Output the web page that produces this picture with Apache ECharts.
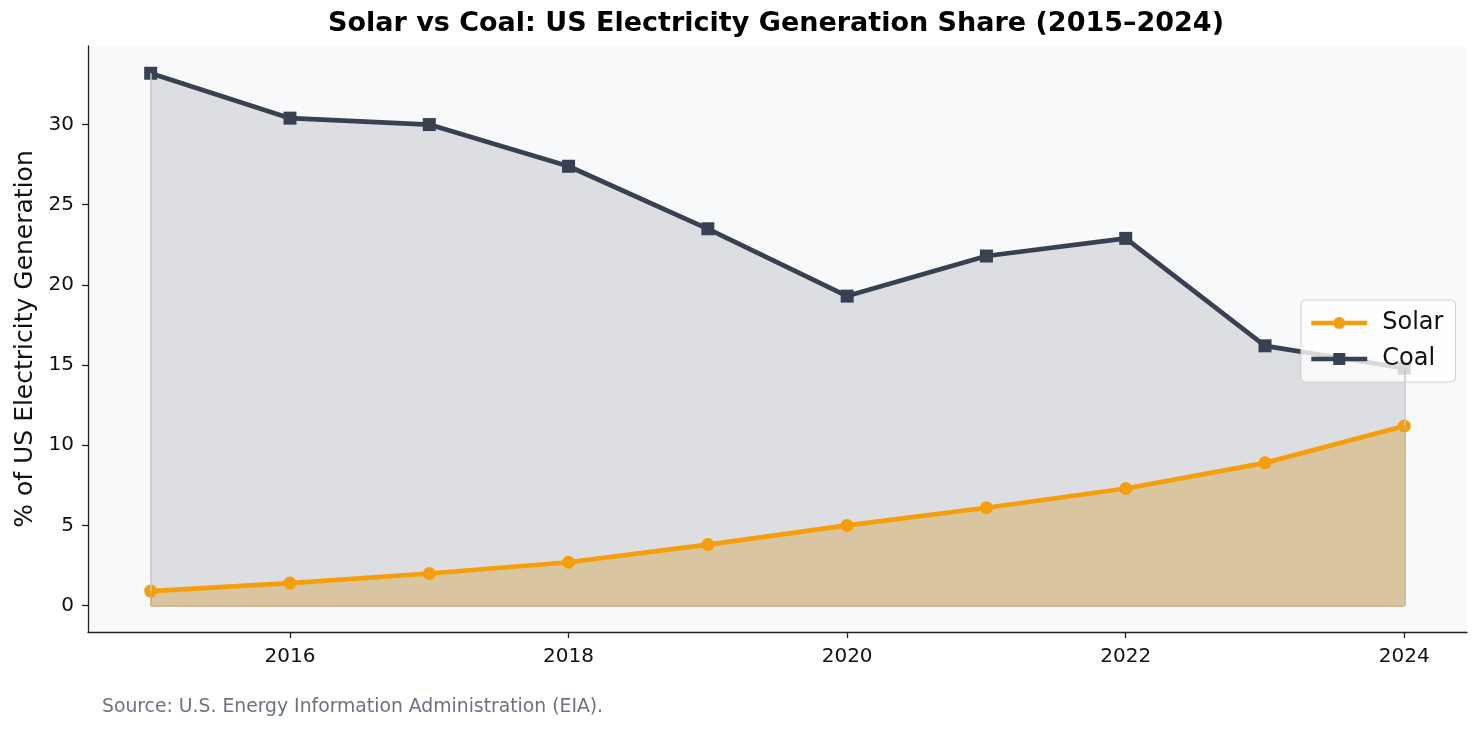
<!DOCTYPE html>
<html>
<head>
<meta charset="utf-8">
<script src="https://cdn.jsdelivr.net/npm/echarts@6/dist/echarts.min.js"></script>
<style>
  html, body { margin: 0; padding: 0; background: #fff; }
  #chart { width: 1482px; height: 734px; }
</style>
</head>
<body>
<div id="chart"></div>
<script>
var years = [2015, 2016, 2017, 2018, 2019, 2020, 2021, 2022, 2023, 2024];
var solar = [0.9, 1.4, 2.0, 2.7, 3.8, 5.0, 6.1, 7.3, 8.9, 11.2];
var coal = [33.2, 30.4, 30.0, 27.4, 23.5, 19.3, 21.8, 22.9, 16.2, 14.8];
var xTicks = [2016, 2018, 2020, 2022, 2024];
var yTicks = [0, 5, 10, 15, 20, 25, 30];

function pairs(vals) {
  return years.map(function (y, i) { return [y, vals[i]]; });
}

// outline of a filled area (left side, right side, base), like fill_between edges
// lower: the series drawn below, so its part of the edge is not repeated
function edges(vals, lower) {
  var n = years.length - 1;
  var first = years[0], last = years[n];
  var lo0 = lower ? lower[0] : 0, loN = lower ? lower[n] : 0;
  var out = [
    [{ coord: [first, lo0] }, { coord: [first, vals[0]] }],
    [{ coord: [last, loN] }, { coord: [last, vals[n]] }]
  ];
  if (!lower) out.push([{ coord: [first, 0] }, { coord: [last, 0] }]);
  return out;
}

var font = 'DejaVu Sans';
var chart = echarts.init(document.getElementById('chart'));

var option = {
  animation: false,
  textStyle: { fontFamily: font },
  grid: {
    left: 88, right: 15, top: 46, bottom: 102,
    show: true, backgroundColor: '#f8f9fb', borderWidth: 0
  },
  legend: {
    data: [
      { name: 'Solar', lineStyle: { width: 4.5 } },
      { name: 'Coal', lineStyle: { width: 4.5 } }
    ],
    orient: 'vertical',
    left: 1301, top: 300,
    itemWidth: 56, itemHeight: 15, itemGap: 8,
    padding: [9, 12, 9, 8],
    backgroundColor: 'rgba(255,255,255,0.8)',
    borderColor: '#d0d0d0', borderWidth: 1, borderRadius: 4,
    textStyle: { fontFamily: font, fontSize: 24, color: '#111', lineHeight: 28, padding: [0, 0, 0, 10] }
  },
  xAxis: {
    type: 'value',
    min: 2014.55, max: 2024.45,
    axisLine: { show: true, onZero: false, lineStyle: { color: '#222', width: 1.3 } },
    axisTick: { show: true, length: 6, customValues: xTicks, lineStyle: { color: '#222', width: 1.3 } },
    axisLabel: {
      customValues: xTicks, fontSize: 20, color: '#111', margin: 15, fontFamily: font,
      formatter: function (v) { return String(v); }
    },
    splitLine: { show: false }
  },
  yAxis: {
    type: 'value',
    min: -1.65, max: 34.9,
    name: '% of US Electricity Generation',
    nameLocation: 'middle',
    nameGap: 50,
    nameTextStyle: { fontSize: 25, color: '#111', fontFamily: font },
    axisLine: { show: true, onZero: false, lineStyle: { color: '#222', width: 1.3 } },
    axisTick: { show: true, length: 6, customValues: yTicks, lineStyle: { color: '#222', width: 1.3 } },
    axisLabel: { customValues: yTicks, fontSize: 20, color: '#111', margin: 14, fontFamily: font },
    splitLine: { show: false }
  },
  series: [
    {
      name: 'Coal',
      type: 'line',
      data: pairs(coal),
      symbol: 'rect',
      symbolSize: 13,
      itemStyle: { color: '#374151' },
      lineStyle: { color: '#374151', width: 4.7 },
      areaStyle: { color: 'rgba(55,65,81,0.14)', opacity: 1, origin: 0 },
      markLine: {
        silent: true, symbol: 'none', label: { show: false },
        lineStyle: { color: '#c6c8cd', width: 1.5, type: 'solid' },
        data: edges(coal, solar)
      },
      z: 3
    },
    {
      name: 'Solar',
      type: 'line',
      data: pairs(solar),
      symbol: 'circle',
      symbolSize: 13,
      itemStyle: { color: '#f59e0b' },
      lineStyle: { color: '#f59e0b', width: 4.7 },
      areaStyle: { color: '#d9c5a0', opacity: 1, origin: 0 },
      markLine: {
        silent: true, symbol: 'none', label: { show: false },
        lineStyle: { color: '#c9ac7c', width: 1.5, type: 'solid' },
        data: edges(solar)
      },
      z: 4
    }
  ],
  graphic: [
    {
      type: 'text', left: 328, top: 10,
      style: {
        text: 'Solar vs Coal: US Electricity Generation Share (2015\u20132024)',
        fontFamily: font, fontSize: 27, fontWeight: 'bold', fill: '#000'
      }
    },
    {
      type: 'text', left: 102, top: 698,
      style: {
        text: 'Source: U.S. Energy Information Administration (EIA).',
        fontFamily: font, fontSize: 18.8, fill: '#6b7280'
      }
    }
  ]
};

chart.setOption(option);
window.addEventListener('resize', function () {
  chart.resize();
});
</script>
</body>
</html>
